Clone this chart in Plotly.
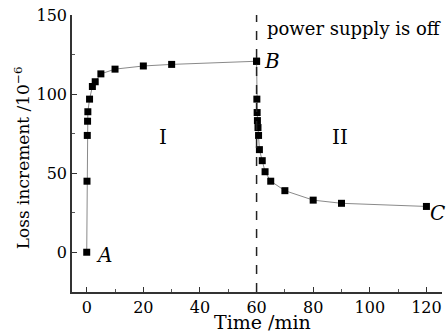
import plotly.graph_objects as go

# Data
rise_t = [0, 0.1, 0.2, 0.3, 0.4, 1, 2, 3, 5, 10, 20, 30, 60]
rise_y = [0, 45, 74, 83, 89, 97, 105, 108, 113, 116, 118, 119, 121]
decay_t = [60, 60.1, 60.2, 60.3, 60.5, 60.7, 61, 62, 63, 65, 70, 80, 90, 120]
decay_y = [121, 97, 88.5, 83.4, 79, 74, 65, 58, 51, 45, 39, 33, 31, 29]
x_ticks = [0, 20, 40, 60, 80, 100, 120]
y_ticks = [0, 50, 100, 150]

FONT = "DejaVu Serif"

fig = go.Figure()
for xs, ys in ((rise_t, rise_y), (decay_t, decay_y)):
    fig.add_trace(go.Scatter(
        x=xs, y=ys, mode="lines+markers",
        line=dict(color="#8a8a8a", width=1),
        marker=dict(symbol="square", size=7, color="black"),
        showlegend=False, hoverinfo="skip"))

fig.add_shape(type="line", xref="x", yref="paper", x0=60, x1=60, y0=0, y1=1,
              line=dict(color="#222", width=1.5, dash="dash"))

big = dict(family=FONT, size=20, color="black")
fig.add_annotation(x=63, y=142, text="power supply is off", xanchor="left", yanchor="middle",
                   showarrow=False, font=dict(family=FONT, size=18, color="black"))
fig.add_annotation(x=2.5, y=-1.5, text="<i>A</i>", xanchor="left", yanchor="middle", showarrow=False, font=big)
fig.add_annotation(x=62, y=121, text="<i>B</i>", xanchor="left", yanchor="middle", showarrow=False, font=big)
fig.add_annotation(x=120.6, y=25, text="<i>C</i>", xanchor="left", yanchor="middle", showarrow=False, font=big)
fig.add_annotation(x=27, y=73, text="I", xanchor="center", yanchor="middle", showarrow=False, font=big)
fig.add_annotation(x=89.5, y=73, text="II", xanchor="center", yanchor="middle", showarrow=False, font=big)

# axis titles placed as annotations for precise positioning
fig.add_annotation(xref="paper", yref="paper", x=0.514, y=-0.108, text="Time /min",
                   xanchor="center", yanchor="middle", showarrow=False,
                   font=dict(family=FONT, size=19, color="black"))
fig.add_annotation(xref="paper", yref="paper", x=-0.135, y=0.483, text="Loss increment /10<sup>−6</sup>",
                   textangle=-90, xanchor="center", yanchor="middle", showarrow=False,
                   font=dict(family=FONT, size=17, color="black"))

axis_common = dict(showgrid=False, zeroline=False, showline=True, linecolor="#333",
                   linewidth=1.5, ticks="inside", ticklen=5, tickwidth=1.2, tickcolor="#333",
                   tickfont=dict(family=FONT, size=16, color="black"), automargin=False)

fig.update_xaxes(range=[-5.2, 125.5], tickvals=x_ticks,
                 minor=dict(ticks="inside", ticklen=3, dtick=10, tickcolor="#555"),
                 **axis_common)
fig.update_yaxes(range=[-25.2, 150.3], tickvals=y_ticks,
                 minor=dict(ticks="inside", ticklen=3, dtick=25, tickcolor="#555"),
                 **axis_common)

fig.update_layout(width=446, height=335, margin=dict(l=72, r=4, t=15, b=43),
                  plot_bgcolor="white", paper_bgcolor="white")

fig.write_html("out.html", config={"displayModeBar": False},
               post_script="document.body.style.margin='0';")
